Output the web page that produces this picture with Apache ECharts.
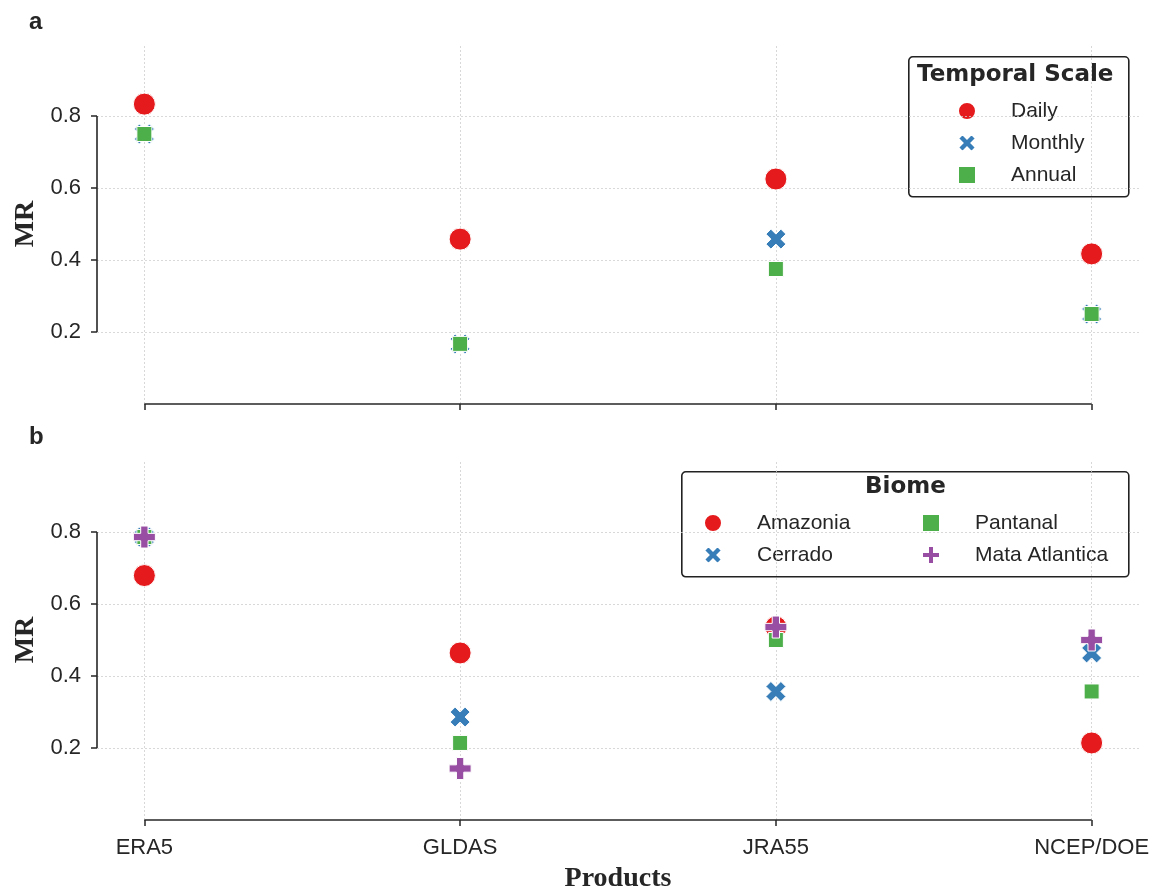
<!DOCTYPE html>
<html>
<head>
<meta charset="utf-8">
<script src="https://cdn.jsdelivr.net/npm/echarts@6/dist/echarts.min.js"></script>
<style>
html,body{margin:0;padding:0;background:#fff;}
#chart{width:1159px;height:890px;}
</style>
</head>
<body>
<div id="chart"></div>
<script>
// ---- data ----
var products = ['ERA5', 'GLDAS', 'JRA55', 'NCEP/DOE'];
var yTicks = [0.2, 0.4, 0.6, 0.8];
// panel a: Temporal Scale
var temporalNames = ['Daily', 'Monthly', 'Annual'];
var daily   = [0.833, 0.458, 0.625, 0.417];
var monthly = [0.750, 0.167, 0.458, 0.250];
var annual  = [0.750, 0.167, 0.375, 0.250];
// panel b: Biome
var biomeNames = ['Amazonia', 'Cerrado', 'Pantanal', 'Mata Atlantica'];
var amazonia = [0.679, 0.464, 0.536, 0.214];
var cerrado  = [0.786, 0.286, 0.357, 0.464];
var pantanal = [0.786, 0.214, 0.500, 0.357];
var mata     = [0.786, 0.143, 0.536, 0.500];

// ---- styles ----
var RED = '#e41a1c', BLUE = '#377eb8', GREEN = '#4daf4a', PURPLE = '#984ea3';
var DARK = '#262626';
var X_PATH = 'path://M2,-4 L4,-2 L2,0 L4,2 L2,4 L0,2 L-2,4 L-4,2 L-2,0 L-4,-2 L-2,-4 L0,-2 Z';
var P_PATH = 'path://M-1,-3 L1,-3 L1,-1 L3,-1 L3,1 L1,1 L1,3 L-1,3 L-1,1 L-3,1 L-3,-1 L-1,-1 Z';
var SANS = '"Liberation Sans", Arial, sans-serif';
var xIdx = products.map(function (p, i) { return i; });
var XMIN = -0.15, XMAX = products.length - 1 + 0.15, YMIN = 0, YMAX = 1;

function pts(vals) { return vals.map(function (v, i) { return [i, v]; }); }

function scatter(name, vals, gi, symbol, size, color) {
  return {
    type: 'scatter', name: name, xAxisIndex: gi, yAxisIndex: gi,
    data: pts(vals), symbol: symbol, symbolSize: size, z: 5,
    itemStyle: { color: color, borderColor: '#ffffff', borderWidth: 1, opacity: 1 },
    emphasis: { disabled: true }, animation: false
  };
}

function frame(gi) {
  var grid = { type: [2, 2], color: '#cfcfcf', width: 0.8 };
  var axis = { type: 'solid', color: DARK, width: 1.6 };
  var d = [];
  yTicks.forEach(function (t) { d.push({ yAxis: t, lineStyle: grid }); });
  xIdx.forEach(function (t) { d.push({ xAxis: t, lineStyle: grid }); });
  d.push([{ coord: [XMIN, yTicks[0]], lineStyle: axis }, { coord: [XMIN, yTicks[yTicks.length - 1]] }]);
  d.push([{ coord: [xIdx[0], YMIN], lineStyle: axis }, { coord: [xIdx[xIdx.length - 1], YMIN] }]);
  return {
    type: 'line', name: '_frame' + gi, xAxisIndex: gi, yAxisIndex: gi, data: [],
    clip: false, silent: true, z: 1, animation: false,
    markLine: { silent: true, symbol: ['none', 'none'], label: { show: false }, animation: false,
      emphasis: { disabled: true }, data: d }
  };
}

function xAxisCfg(gi, showLabels, name) {
  return {
    type: 'value', gridIndex: gi, min: XMIN, max: XMAX,
    axisLine: { show: false, onZero: false },
    axisTick: { show: true, customValues: xIdx, length: 6, lineStyle: { color: DARK, width: 1.5 } },
    axisLabel: { show: showLabels, customValues: xIdx, margin: 17,
      formatter: function (v) { return products[Math.round(v)] || ''; },
      color: DARK, fontSize: 22, fontFamily: SANS },
    splitLine: { show: false },
    name: name, nameLocation: 'middle', nameGap: 45,
    nameTextStyle: { fontFamily: '"Liberation Serif", serif', fontWeight: 'bold', fontSize: 28, color: DARK }
  };
}
function yAxisCfg(gi) {
  return {
    type: 'value', gridIndex: gi, min: YMIN, max: YMAX,
    axisLine: { show: false, onZero: false },
    axisTick: { show: true, customValues: yTicks, length: 6, lineStyle: { color: DARK, width: 1.5 } },
    axisLabel: { show: true, customValues: yTicks, margin: 16,
      formatter: function (v) { return v.toFixed(1); },
      color: DARK, fontSize: 22, fontFamily: SANS },
    splitLine: { show: false },
    name: 'MR', nameLocation: 'middle', nameGap: 57, nameRotate: 90,
    nameTextStyle: { fontFamily: '"Liberation Serif", serif', fontWeight: 'bold', fontSize: 28, color: DARK }
  };
}

var legendText = { fontSize: 21, fontFamily: SANS, color: DARK, padding: [0, 0, 0, 30], lineHeight: 24 };
function legendCfg(names, left, top, gap) {
  return {
    orient: 'vertical', left: left, top: top, data: names, selectedMode: false,
    itemWidth: 18, itemHeight: 18, itemGap: gap, padding: 0,
    textStyle: legendText, inactiveColor: '#ccc'
  };
}

var chart = echarts.init(document.getElementById('chart'), null, { renderer: 'canvas' });
chart.setOption({
  backgroundColor: '#ffffff',
  animation: false,
  grid: [
    { left: 97, top: 44, width: 1042, height: 360, outerBoundsMode: 'none', containLabel: false },
    { left: 97, top: 460, width: 1042, height: 360, outerBoundsMode: 'none', containLabel: false }
  ],
  xAxis: [xAxisCfg(0, false, ''), xAxisCfg(1, true, 'Products')],
  yAxis: [yAxisCfg(0), yAxisCfg(1)],
  legend: [
    legendCfg(temporalNames, 957, 99, 8),
    legendCfg(['Amazonia', 'Cerrado'], 703, 511, 8),
    legendCfg(['Pantanal', 'Mata Atlantica'], 921, 511, 8)
  ],
  graphic: [
    { type: 'text', left: 29, top: 10, style: { text: 'a', font: 'bold 24px ' + SANS, fill: DARK } },
    { type: 'text', left: 29, top: 425, style: { text: 'b', font: 'bold 24px ' + SANS, fill: DARK } },
    { type: 'rect', left: 908, top: 56, z: 0, shape: { width: 220, height: 140, r: 4 },
      style: { fill: '#ffffff', stroke: '#222', lineWidth: 1.6 } },
    { type: 'text', left: 917, top: 64, z: 10, style: { text: 'Temporal Scale', font: 'bold 23px "DejaVu Sans", sans-serif', fill: DARK } },
    { type: 'rect', left: 681, top: 471, z: 0, shape: { width: 447, height: 105, r: 4 },
      style: { fill: '#ffffff', stroke: '#222', lineWidth: 1.6 } },
    { type: 'text', left: 865, top: 476, z: 10, style: { text: 'Biome', font: 'bold 23px "DejaVu Sans", sans-serif', fill: DARK } }
  ],
  series: [
    frame(0), frame(1),
    scatter('Daily', daily, 0, 'circle', 22, RED),
    scatter('Monthly', monthly, 0, X_PATH, 20, BLUE),
    scatter('Annual', annual, 0, 'rect', 15, GREEN),
    scatter('Amazonia', amazonia, 1, 'circle', 22, RED),
    scatter('Cerrado', cerrado, 1, X_PATH, 20, BLUE),
    scatter('Pantanal', pantanal, 1, 'rect', 15, GREEN),
    scatter('Mata Atlantica', mata, 1, P_PATH, 22, PURPLE)
  ]
});
</script>
</body>
</html>
